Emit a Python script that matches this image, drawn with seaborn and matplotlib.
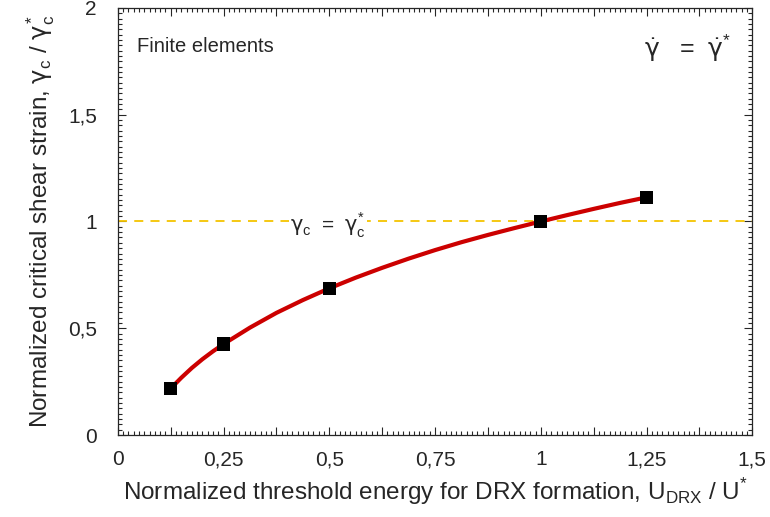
import numpy as np
import pandas as pd
import matplotlib
matplotlib.use('Agg')
import matplotlib.pyplot as plt
from matplotlib.ticker import MultipleLocator, FuncFormatter
import seaborn as sns

# finite element results (markers)
u_drx = [0.125, 0.25, 0.5, 1.0, 1.25]
gamma_c = [0.218, 0.426, 0.687, 1.0, 1.113]

# fitted curve
curve_u = [0.125, 0.15, 0.175, 0.2, 0.225, 0.25, 0.3125, 0.375, 0.4375, 0.5,
           0.5625, 0.625, 0.6875, 0.75, 0.8125, 0.875, 0.9375, 1.0,
           1.0625, 1.125, 1.1875, 1.25]
curve_g = [0.218, 0.268, 0.314, 0.355, 0.392, 0.426, 0.503, 0.572, 0.632, 0.687,
           0.737, 0.783, 0.826, 0.866, 0.903, 0.937, 0.969, 1.0,
           1.03, 1.059, 1.087, 1.113]

sns.set_style('ticks')
plt.rcParams['font.family'] = ['Liberation Sans', 'DejaVu Sans']
plt.rcParams['mathtext.fontset'] = 'custom'
plt.rcParams['mathtext.rm'] = 'Liberation Sans'
plt.rcParams['mathtext.it'] = 'DejaVu Sans'
plt.rcParams['mathtext.bf'] = 'Liberation Sans:bold'

fig = plt.figure(figsize=(7.7, 5.17), dpi=100)
ax = fig.add_axes([0.153, 0.1586, 0.824, 0.826])

ax.axhline(1.0, color='#f5c400', lw=1.3, ls=(0, (5, 4)), zorder=1)

sns.lineplot(x=curve_u, y=curve_g, color='#cc0000', lw=3, ax=ax, zorder=2)
sns.scatterplot(x=u_drx, y=gamma_c, marker='s', color='black', s=90,
                edgecolor='none', ax=ax, zorder=3)

ax.set_xlim(0, 1.5)
ax.set_ylim(0, 2)

ax.xaxis.set_major_locator(MultipleLocator(0.125))
ax.xaxis.set_minor_locator(MultipleLocator(0.0125))
ax.yaxis.set_major_locator(MultipleLocator(0.5))
ax.yaxis.set_minor_locator(MultipleLocator(0.025))


def xfmt(v, pos):
    if abs(v / 0.25 - round(v / 0.25)) > 1e-6:
        return ''
    return ('%g' % v).replace('.', ',')


ax.xaxis.set_major_formatter(FuncFormatter(xfmt))
ax.yaxis.set_major_formatter(FuncFormatter(lambda v, p: ('%g' % v).replace('.', ',')))

ax.tick_params(which='both', direction='in', top=True, right=True, labelsize=15, width=0.8)
ax.tick_params(which='major', length=6)
ax.tick_params(which='minor', length=3)
ax.tick_params(axis='x', pad=11)
ax.tick_params(axis='y', pad=15)
for sp in ax.spines.values():
    sp.set_linewidth(0.9)

ax.set_xlabel(r'Normalized threshold energy for DRX formation, U$_{\mathrm{DRX}}$ / U$^{*}$',
              fontsize=17.5, labelpad=5)
ax.set_ylabel(r'Normalized critical shear strain, $\gamma_{\mathrm{c}}$ / $\gamma_{\mathrm{c}}^{*}$',
              fontsize=17.5, labelpad=8)

ax.text(0.045, 1.82, 'Finite elements', fontsize=14.5, va='center', ha='left')
ax.text(1.45, 1.81, r'$\dot{\gamma}\ \ =\ \dot{\gamma}^{*}$', fontsize=18, va='center', ha='right')
ax.text(0.497, 0.98, r'$\gamma_{\mathrm{c}}\ =\ \gamma_{\mathrm{c}}^{*}$', fontsize=15,
        va='center', ha='center', bbox=dict(facecolor='white', edgecolor='none', pad=1))

fig.savefig('out.png', dpi=100)
